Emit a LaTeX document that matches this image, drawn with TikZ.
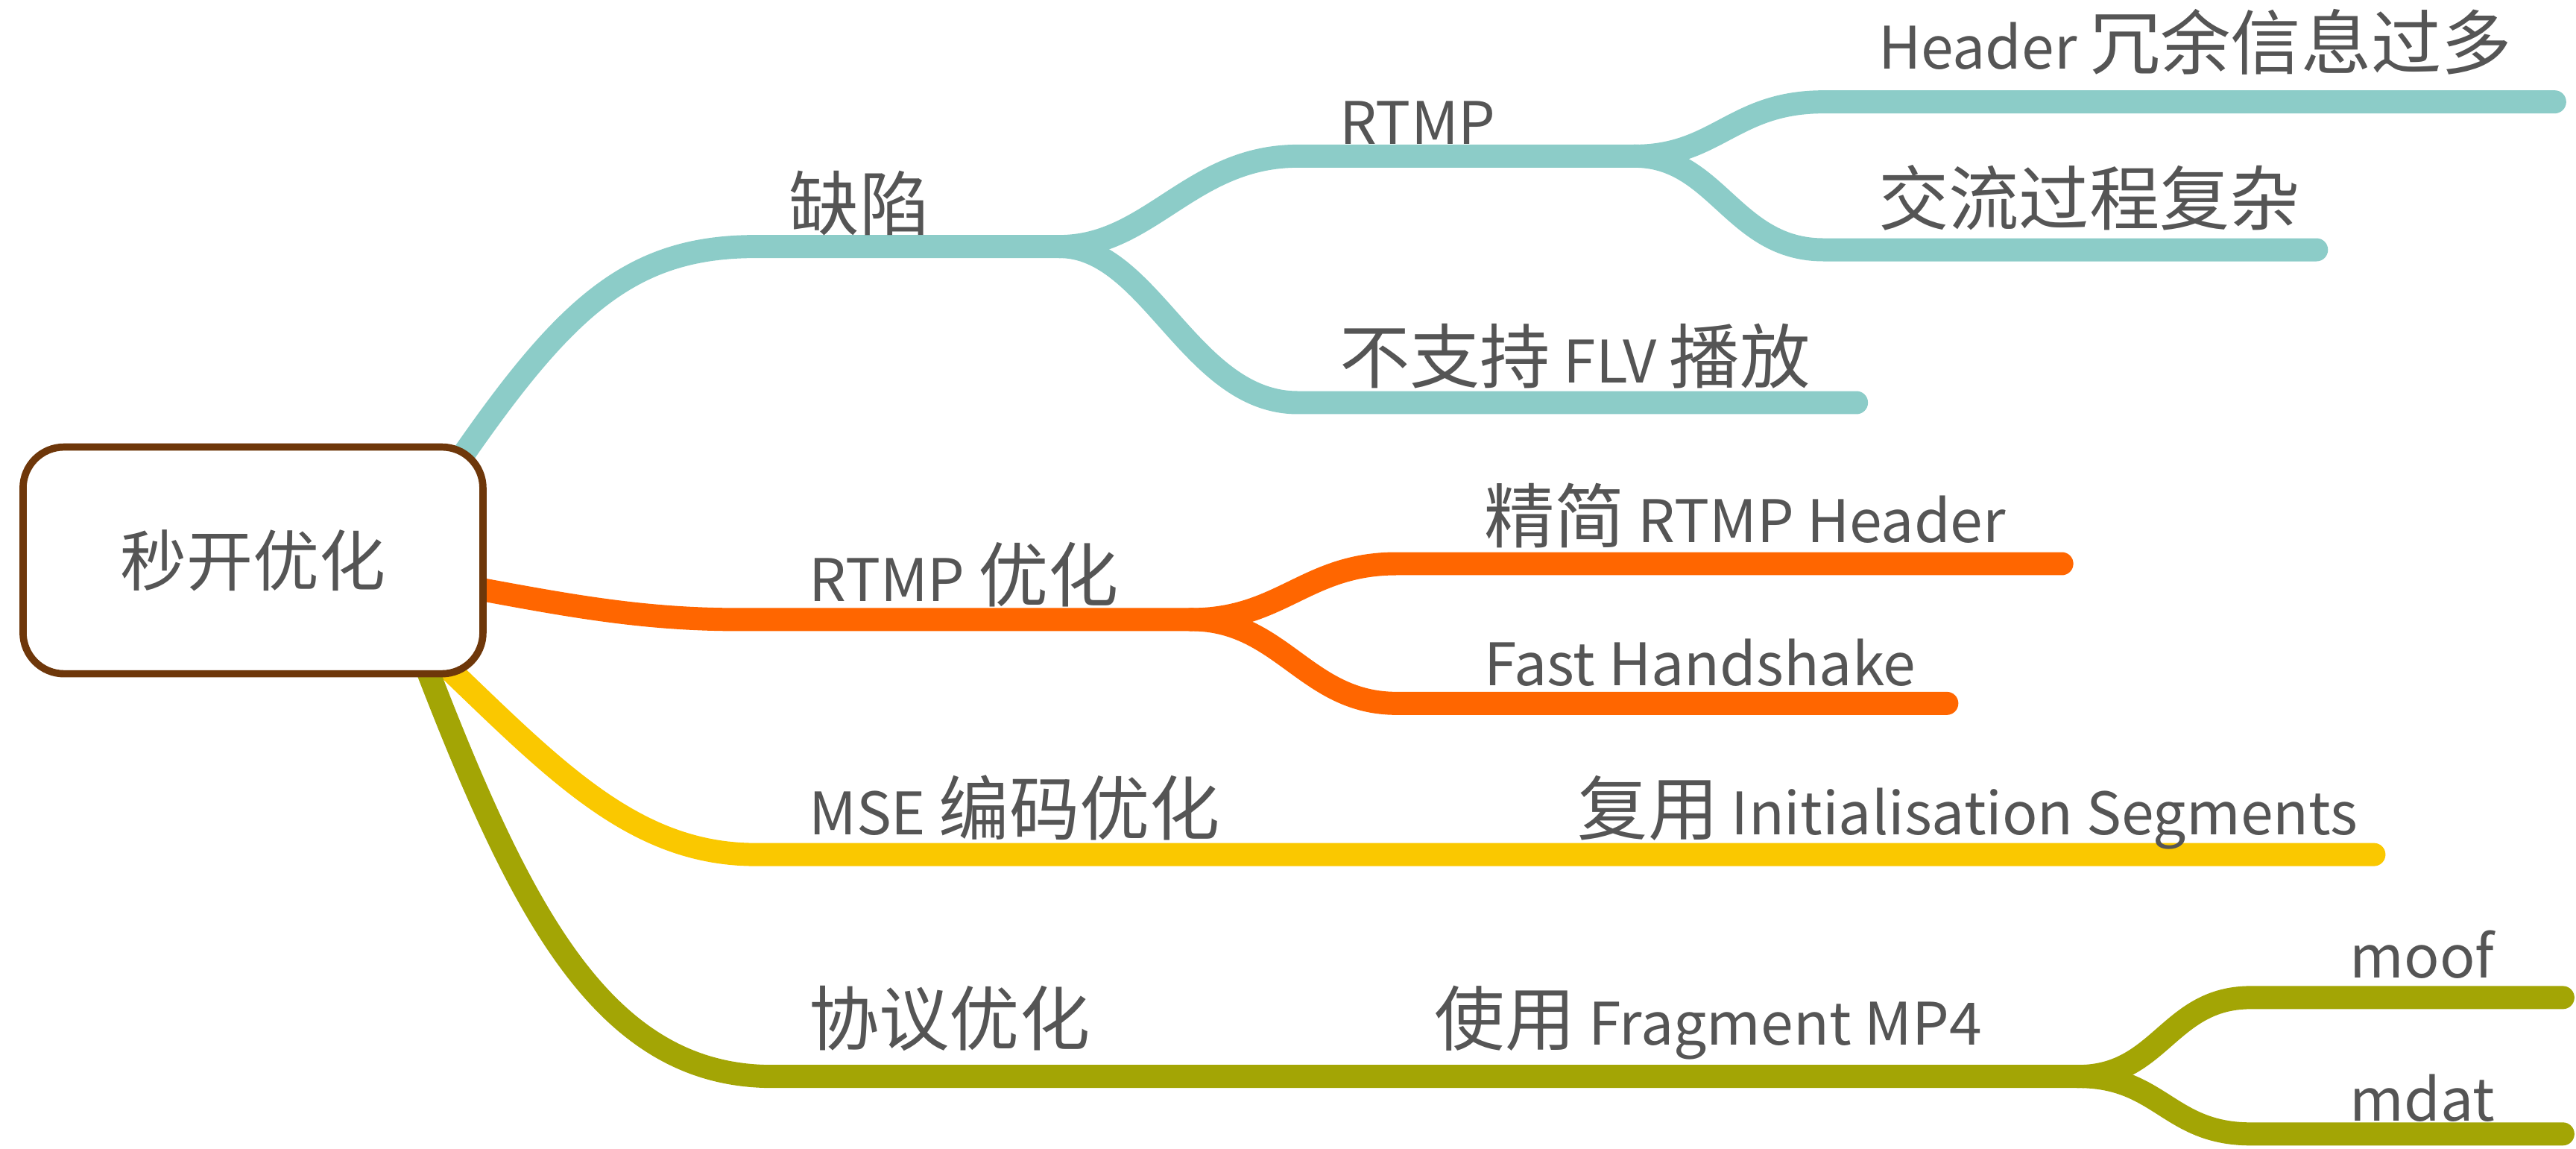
\documentclass[tikz,border=0pt]{standalone}
\usepackage{fontspec}
\setmainfont{Noto Sans CJK SC}
\newfontfamily\cjk[Scale=1.2]{Noto Sans CJK SC}
\newcommand{\zh}[1]{{\cjk #1}}
\usepackage{tikz}
\usetikzlibrary{positioning}
\usetikzlibrary{backgrounds}
\definecolor{tealline}{RGB}{140,204,200}
\definecolor{orangeline}{RGB}{255,102,0}
\definecolor{yellowline}{RGB}{250,200,0}
\definecolor{oliveline}{RGB}{163,165,5}
\definecolor{rootbrown}{RGB}{110,55,10}
\definecolor{textgray}{RGB}{85,85,85}
\tikzset{
    rootbox/.style={draw=rootbrown, line width=2.5pt, fill=white, rounded corners=0.5cm,
        minimum width=5.6cm, minimum height=2.76cm, text=textgray,
        font=\fontsize{23}{26}\selectfont},
    txt/.style={anchor=base west, inner sep=0pt, text=textgray,
        font=\fontsize{20.3}{24}\selectfont},
    tealbranch/.style={draw=tealline, line width=8pt, line cap=round},
    orangebranch/.style={draw=orangeline, line width=8pt, line cap=round},
    yellowbranch/.style={draw=yellowline, line width=8pt, line cap=round},
    olivebranch/.style={draw=oliveline, line width=8pt, line cap=round},
}

\begin{document}
\begin{tikzpicture}[x=0.02cm,y=-0.02cm]
\useasboundingbox (0,0) rectangle (1568,699);

\node [rootbox] (root) at (154,341) {秒开优化};

% forks and ends
\coordinate (defectfork) at (645,150);
\coordinate (rtmpfork) at (995,95);
\coordinate (optfork) at (725,377);
\coordinate (protofork) at (1265,655);
\coordinate (headerend) at (1555,62);
\coordinate (flowend) at (1410,152);
\coordinate (flvend) at (1130,245);
\coordinate (slimend) at (1255,343);
\coordinate (shakeend) at (1185,428);
\coordinate (reuseend) at (1445,520);
\coordinate (moofend) at (1560,607);
\coordinate (mdatend) at (1560,690);

\begin{scope}[on background layer]
\draw [tealbranch] ([shift={(-30,30)}]root.north east) .. controls (340,190) and (380,150) .. (460,150) -- (defectfork);
\draw [orangebranch] ([shift={(-45,10)}]root.east) .. controls (330,365) and (380,377) .. (450,377) -- (optfork);
\draw [yellowbranch] ([shift={(-45,45)}]root.east) .. controls (330,460) and (380,520) .. (460,520) -- (reuseend);
\draw [olivebranch] ([shift={(-50,30)}]root.east) .. controls (310,540) and (360,655) .. (470,655) -- (protofork);
\end{scope}

\draw [tealbranch] (defectfork) .. controls (700,150) and (725,95) .. (790,95) -- (rtmpfork);
\draw [tealbranch] (defectfork) .. controls (700,150) and (725,245) .. (790,245) -- (flvend);
\draw [tealbranch] (rtmpfork) .. controls (1045,95) and (1055,62) .. (1110,62) -- (headerend);
\draw [tealbranch] (rtmpfork) .. controls (1045,95) and (1055,152) .. (1110,152) -- (flowend);

\draw [orangebranch] (optfork) .. controls (780,377) and (795,343) .. (850,343) -- (slimend);
\draw [orangebranch] (optfork) .. controls (780,377) and (795,428) .. (850,428) -- (shakeend);

\draw [olivebranch] (protofork) .. controls (1315,655) and (1320,607) .. (1370,607) -- (moofend);
\draw [olivebranch] (protofork) .. controls (1315,655) and (1320,690) .. (1370,690) -- (mdatend);

% labels
\node [txt] (defect) at (480,140) {\zh{缺陷}};
\node [txt] (rtmp) at (815,88) {RTMP};
\node [txt] (flv) at (815,233) {\zh{不支持} FLV \zh{播放}};
\node [txt] (header) at (1143,42) {Header \zh{冗余信息过多}};
\node [txt] (flow) at (1143,137) {\zh{交流过程复杂}};
\node [txt] (rtmpopt) at (492,366) {RTMP \zh{优化}};
\node [txt] (slim) at (903,330) {\zh{精简} RTMP Header};
\node [txt] (shake) at (903,417) {Fast Handshake};
\node [txt] (mse) at (492,508) {MSE \zh{编码优化}};
\node [txt] (reuse) at (960,508) {\zh{复用} Initialisation Segments};
\node [txt] (proto) at (492,636) {\zh{协议优化}};
\node [txt] (fmp4) at (873,636) {\zh{使用} Fragment MP4};
\node [txt] (moof) at (1430,595) {moof};
\node [txt] (mdat) at (1430,682) {mdat};
\end{tikzpicture}
\end{document}
